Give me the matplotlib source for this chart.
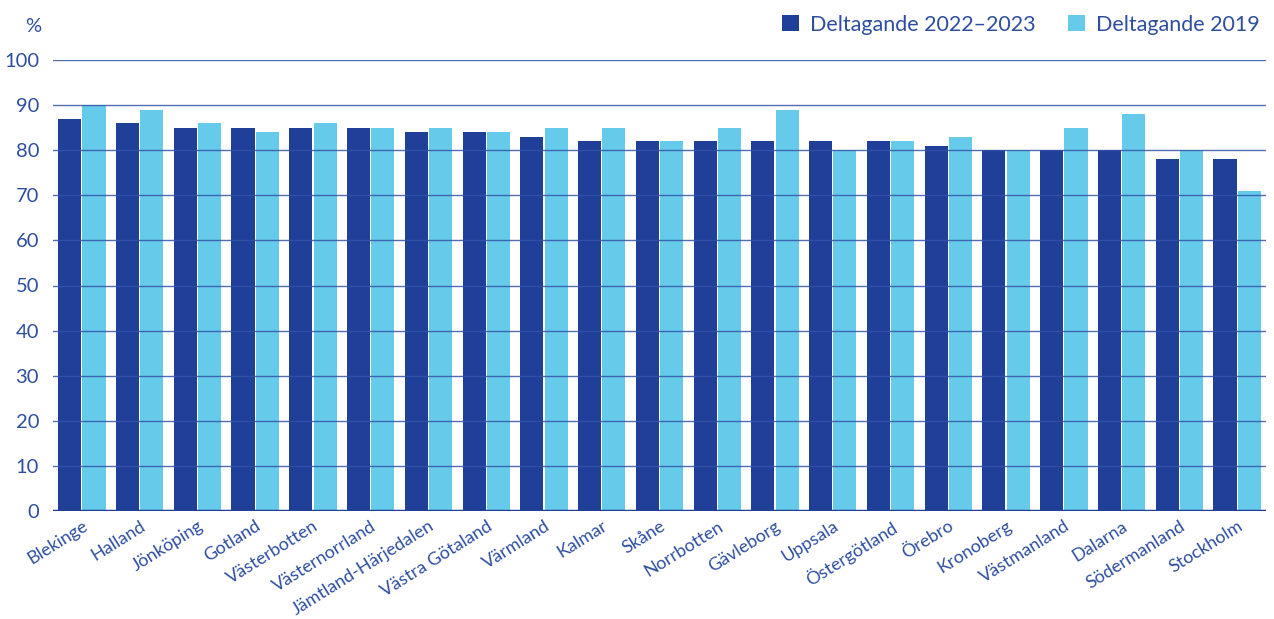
import matplotlib
matplotlib.use("Agg")
import matplotlib.pyplot as plt
import numpy as np

regions = ["Blekinge", "Halland", "Jönköping", "Gotland", "Västerbotten",
           "Västernorrland", "Jämtland-Härjedalen", "Västra Götaland", "Värmland",
           "Kalmar", "Skåne", "Norrbotten", "Gävleborg", "Uppsala", "Östergötland",
           "Örebro", "Kronoberg", "Västmanland", "Dalarna", "Södermanland", "Stockholm"]
deltagande_2022_2023 = [87, 86, 85, 85, 85, 85, 84, 84, 83, 82, 82, 82, 82, 82, 82,
                        81, 80, 80, 80, 78, 78]
deltagande_2019 = [90, 89, 86, 84, 86, 85, 85, 84, 85, 85, 82, 85, 89, 80, 82,
                   83, 80, 85, 88, 80, 71]
yticks = [0, 10, 20, 30, 40, 50, 60, 70, 80, 90, 100]

dark = "#1f3f99"
light = "#66cbea"
txt = "#2e4fa0"

plt.rcParams['font.family'] = ['Lato', 'DejaVu Sans']

fig = plt.figure(figsize=(12.74, 6.19), dpi=100)
ax = fig.add_axes([53 / 1274, 1 - 511 / 619, 1213 / 1274, 451 / 619])

x = np.arange(len(regions))
w = 0.40
ax.bar(x - 0.21, deltagande_2022_2023, w, color=dark, label="Deltagande 2022–2023", zorder=2)
ax.bar(x + 0.21, deltagande_2019, w, color=light, label="Deltagande 2019", zorder=2)

ax.set_xlim(-0.5, len(regions) - 0.5)
ax.set_ylim(0, 100)
ax.set_yticks(yticks)
for t in yticks[1:]:
    ax.axhline(t, color="#3553a8", lw=1.0, alpha=0.85, zorder=3)
ax.axhline(0, color=dark, lw=2.5, zorder=4)

for s in ax.spines.values():
    s.set_visible(False)
ax.tick_params(axis='y', length=0, labelsize=14.5, labelcolor=txt, pad=10)
ax.tick_params(axis='x', length=0, labelsize=13, labelcolor=txt, pad=5)
ax.set_xticks(x)
ax.set_xticklabels(regions, rotation=32, ha='right', rotation_mode='anchor')

fig.text(33 / 1274, 1 - 27 / 619, "%", fontsize=14.5, color=txt, ha='center', va='center')

leg = fig.legend(loc='upper right', bbox_to_anchor=(1268 / 1274, 1 - 6 / 619), ncol=2,
                 frameon=False, fontsize=15.5, handlelength=0.8, handleheight=0.8,
                 handletextpad=0.5, columnspacing=1.5, borderaxespad=0)
for t in leg.get_texts():
    t.set_color(txt)

fig.savefig("out.png", dpi=100)
